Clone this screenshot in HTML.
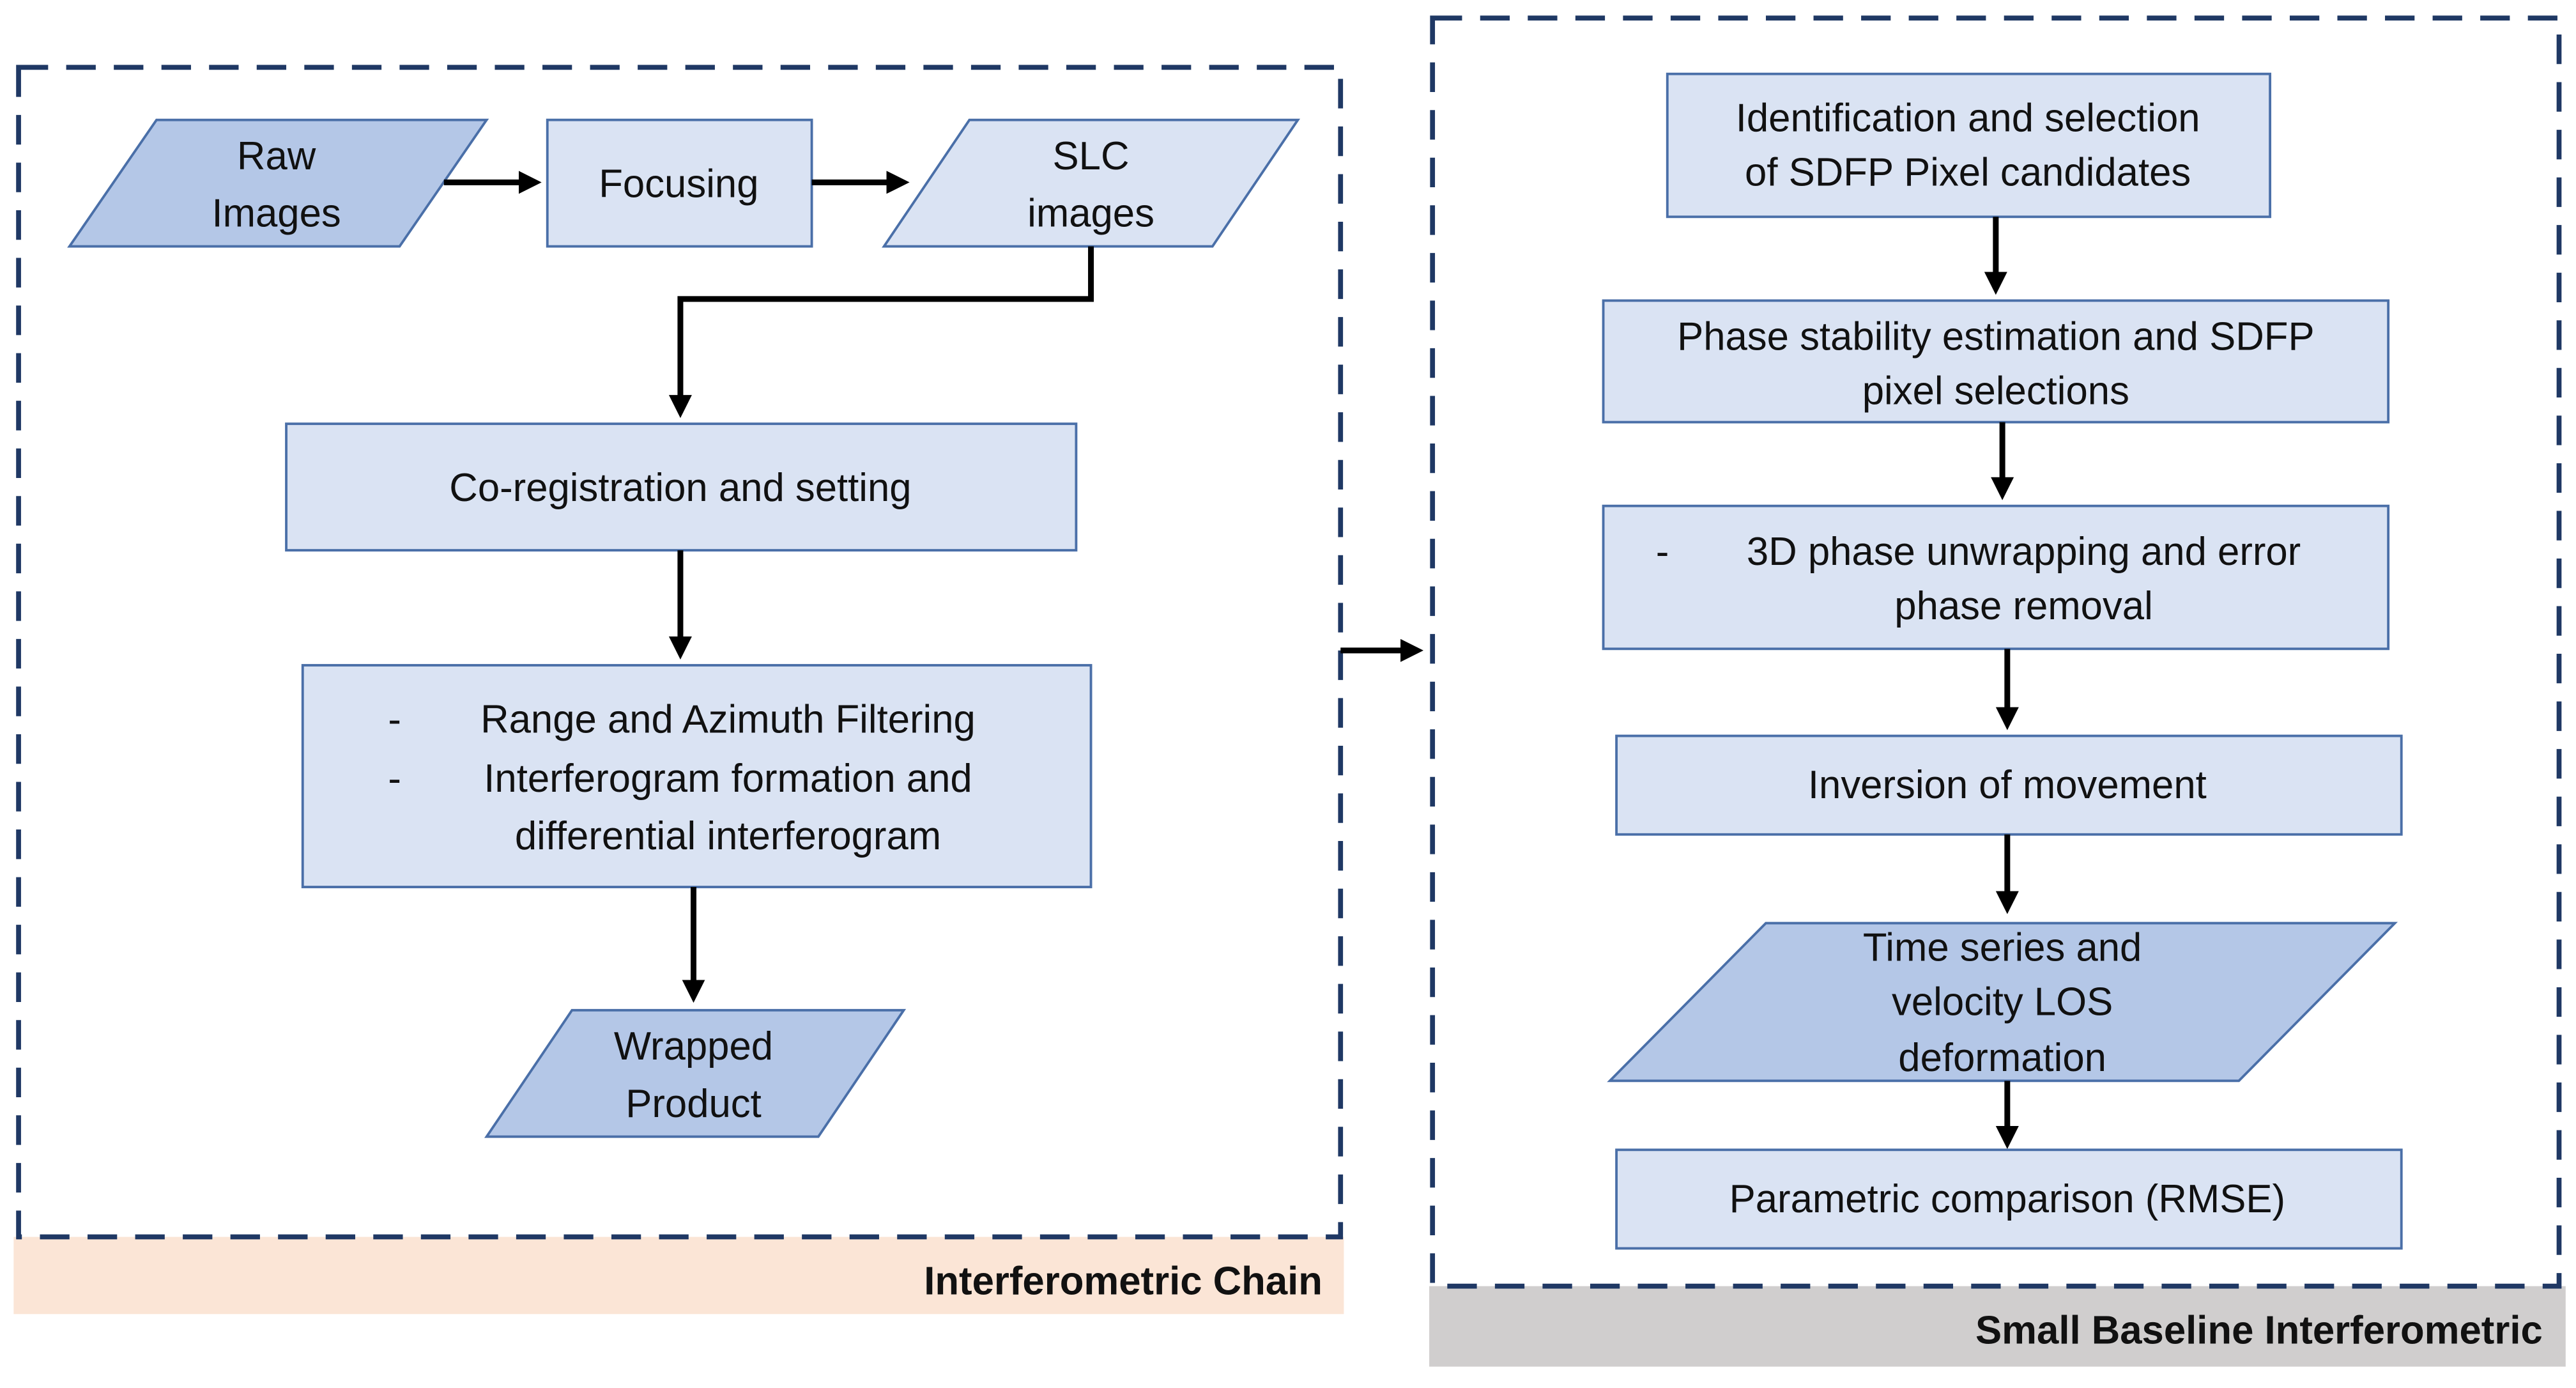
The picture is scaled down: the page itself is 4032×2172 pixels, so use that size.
<!DOCTYPE html>
<html><head><meta charset="utf-8"><style>
html,body{margin:0;padding:0;background:#fff}
svg{display:block}
text{font-family:"Liberation Sans",sans-serif;font-size:24px;fill:#111;text-anchor:middle}
.b{font-weight:bold;text-anchor:end;font-size:24px}
.l{fill:#dae3f3;stroke:#4a6fa8;stroke-width:1.5}
.d{fill:#b4c7e7;stroke:#4a6fa8;stroke-width:1.5}
.a{stroke:#000;stroke-width:3.5;fill:none}
</style></head><body>
<svg width="4032" height="2172" viewBox="0 0 1568 845" xmlns="http://www.w3.org/2000/svg">
<defs><marker id="m" markerWidth="4" markerHeight="4" refX="3" refY="2" orient="auto" markerUnits="strokeWidth"><path d="M0,0 L4,2 L0,4 z" fill="#000"/></marker></defs>
<rect x="8" y="753" width="810" height="47" fill="#fbe5d6"/>
<text class="b" x="805" y="788">Interferometric Chain</text>
<rect x="870" y="783" width="692" height="49" fill="#d0cece"/>
<text class="b" x="1548" y="818">Small Baseline Interferometric</text>
<rect x="11" y="41" width="805" height="712" fill="none" stroke="#1f3864" stroke-width="3" stroke-dasharray="18,11"/>
<rect x="872" y="11" width="686" height="772" fill="none" stroke="#1f3864" stroke-width="3" stroke-dasharray="18,11"/>

<polygon class="d" points="95,73 296,73 243,150 42,150"/>
<text x="168" y="103">Raw</text><text x="168" y="138">Images</text>
<rect class="l" x="333" y="73" width="161" height="77"/>
<text x="413" y="120">Focusing</text>
<polygon class="l" points="590,73 790,73 738,150 538,150"/>
<text x="664" y="103">SLC</text><text x="664" y="138">images</text>
<line class="a" x1="270" y1="111" x2="326" y2="111" marker-end="url(#m)"/>
<line class="a" x1="494" y1="111" x2="550" y2="111" marker-end="url(#m)"/>
<polyline class="a" points="664,150 664,182 414,182 414,251" marker-end="url(#m)"/>
<rect class="l" x="174" y="258" width="481" height="77"/>
<text x="414" y="305">Co-registration and setting</text>
<line class="a" x1="414" y1="335" x2="414" y2="398" marker-end="url(#m)"/>
<rect class="l" x="184" y="405" width="480" height="135"/>
<text x="240" y="446">-</text><text x="443" y="446">Range and Azimuth Filtering</text>
<text x="240" y="482">-</text><text x="443" y="482">Interferogram formation and</text>
<text x="443" y="517">differential interferogram</text>
<line class="a" x1="422" y1="540" x2="422" y2="607" marker-end="url(#m)"/>
<polygon class="d" points="348,615 550,615 498,692 296,692"/>
<text x="422" y="645">Wrapped</text><text x="422" y="680">Product</text>

<line class="a" x1="816" y1="396" x2="863" y2="396" marker-end="url(#m)"/>

<rect class="l" x="1015" y="45" width="367" height="87"/>
<text x="1198" y="80">Identification and selection</text><text x="1198" y="113">of SDFP Pixel candidates</text>
<line class="a" x1="1215" y1="132" x2="1215" y2="176" marker-end="url(#m)"/>
<rect class="l" x="976" y="183" width="478" height="74"/>
<text x="1215" y="213">Phase stability estimation and SDFP</text><text x="1215" y="246">pixel selections</text>
<line class="a" x1="1219" y1="257" x2="1219" y2="301" marker-end="url(#m)"/>
<rect class="l" x="976" y="308" width="478" height="87"/>
<text x="1012" y="344">-</text><text x="1232" y="344">3D phase unwrapping and error</text><text x="1232" y="377">phase removal</text>
<line class="a" x1="1222" y1="395" x2="1222" y2="441" marker-end="url(#m)"/>
<rect class="l" x="984" y="448" width="478" height="60"/>
<text x="1222" y="486">Inversion of movement</text>
<line class="a" x1="1222" y1="508" x2="1222" y2="553" marker-end="url(#m)"/>
<polygon class="d" points="1075,562 1458,562 1363,658 980,658"/>
<text x="1219" y="585">Time series and</text><text x="1219" y="618">velocity LOS</text><text x="1219" y="652">deformation</text>
<line class="a" x1="1222" y1="658" x2="1222" y2="696" marker-end="url(#m)"/>
<rect class="l" x="984" y="700" width="478" height="60"/>
<text x="1222" y="738">Parametric comparison (RMSE)</text>
</svg>
</body></html>
